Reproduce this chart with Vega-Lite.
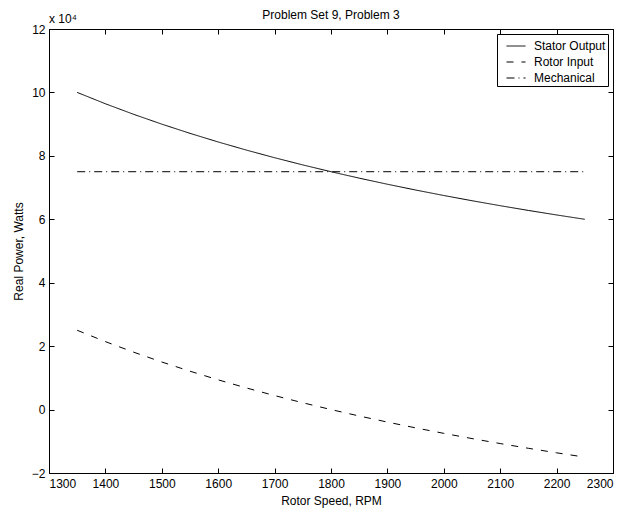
{
  "$schema": "https://vega.github.io/schema/vega-lite/v6.json",
  "width": 564,
  "height": 444,
  "padding": {"left": 12, "top": 9, "right": 17, "bottom": 5},
  "background": "white",
  "config": {
    "font": "Liberation Sans",
    "view": {"stroke": "black", "strokeWidth": 1},
    "axis": {"domainColor": "black", "tickColor": "black", "labelColor": "black", "titleColor": "black", "labelFontSize": 12, "titleFontSize": 12, "titleFontWeight": "normal", "grid": false, "tickSize": -5, "labelPadding": 9}
  },
  "title": {"text": "Problem Set 9, Problem 3", "fontSize": 12, "fontWeight": "normal", "color": "black", "offset": -9},
  "resolve": {"axis": {"x": "independent", "y": "independent"}},
  "layer": [
    {
      "data": {
        "values": [
          {"rpm": 1350, "power": 100000, "series": "Stator Output"},
          {"rpm": 1400, "power": 96428.6, "series": "Stator Output"},
          {"rpm": 1450, "power": 93103.4, "series": "Stator Output"},
          {"rpm": 1500, "power": 90000, "series": "Stator Output"},
          {"rpm": 1550, "power": 87096.8, "series": "Stator Output"},
          {"rpm": 1600, "power": 84375, "series": "Stator Output"},
          {"rpm": 1650, "power": 81818.2, "series": "Stator Output"},
          {"rpm": 1700, "power": 79411.8, "series": "Stator Output"},
          {"rpm": 1750, "power": 77142.9, "series": "Stator Output"},
          {"rpm": 1800, "power": 75000, "series": "Stator Output"},
          {"rpm": 1850, "power": 72973, "series": "Stator Output"},
          {"rpm": 1900, "power": 71052.6, "series": "Stator Output"},
          {"rpm": 1950, "power": 69230.8, "series": "Stator Output"},
          {"rpm": 2000, "power": 67500, "series": "Stator Output"},
          {"rpm": 2050, "power": 65853.7, "series": "Stator Output"},
          {"rpm": 2100, "power": 64285.7, "series": "Stator Output"},
          {"rpm": 2150, "power": 62790.7, "series": "Stator Output"},
          {"rpm": 2200, "power": 61363.6, "series": "Stator Output"},
          {"rpm": 2250, "power": 60000, "series": "Stator Output"},
          {"rpm": 1350, "power": 25000, "series": "Rotor Input"},
          {"rpm": 1400, "power": 21428.6, "series": "Rotor Input"},
          {"rpm": 1450, "power": 18103.4, "series": "Rotor Input"},
          {"rpm": 1500, "power": 15000, "series": "Rotor Input"},
          {"rpm": 1550, "power": 12096.8, "series": "Rotor Input"},
          {"rpm": 1600, "power": 9375, "series": "Rotor Input"},
          {"rpm": 1650, "power": 6818.2, "series": "Rotor Input"},
          {"rpm": 1700, "power": 4411.8, "series": "Rotor Input"},
          {"rpm": 1750, "power": 2142.9, "series": "Rotor Input"},
          {"rpm": 1800, "power": 0, "series": "Rotor Input"},
          {"rpm": 1850, "power": -2027, "series": "Rotor Input"},
          {"rpm": 1900, "power": -3947.4, "series": "Rotor Input"},
          {"rpm": 1950, "power": -5769.2, "series": "Rotor Input"},
          {"rpm": 2000, "power": -7500, "series": "Rotor Input"},
          {"rpm": 2050, "power": -9146.3, "series": "Rotor Input"},
          {"rpm": 2100, "power": -10714.3, "series": "Rotor Input"},
          {"rpm": 2150, "power": -12209.3, "series": "Rotor Input"},
          {"rpm": 2200, "power": -13636.4, "series": "Rotor Input"},
          {"rpm": 2250, "power": -15000, "series": "Rotor Input"},
          {"rpm": 1350, "power": 75000, "series": "Mechanical"},
          {"rpm": 2250, "power": 75000, "series": "Mechanical"}
        ]
      },
      "mark": {"type": "line", "color": "black", "strokeWidth": 1},
      "encoding": {
        "x": {"field": "rpm", "type": "quantitative", "title": "Rotor Speed, RPM",
          "scale": {"domain": [1300, 2300], "nice": false, "zero": false},
          "axis": {"values": [1300, 1400, 1500, 1600, 1700, 1800, 1900, 2000, 2100, 2200, 2300], "format": "d", "labelPadding": 10, "titlePadding": 6}},
        "y": {"field": "power", "type": "quantitative", "title": "Real Power, Watts",
          "scale": {"domain": [-20000, 120000], "nice": false, "zero": false},
          "axis": {"values": [-20000, 0, 20000, 40000, 60000, 80000, 100000, 120000], "labelExpr": "datum.value < 0 ? '\u2212' + (-datum.value / 10000) : '' + (datum.value / 10000)", "titlePadding": 6}},
        "strokeDash": {"field": "series", "type": "nominal",
          "scale": {"domain": ["Stator Output", "Rotor Input", "Mechanical"], "range": [[1, 0], [7, 8], [8, 4, 1, 4]]},
          "legend": {"title": null, "orient": "top-right", "offset": 5, "symbolType": "stroke", "symbolStrokeColor": "black", "symbolStrokeWidth": 1, "symbolSize": 361, "symbolOffset": 7, "labelFontSize": 12, "labelColor": "black", "strokeColor": "black", "fillColor": "white", "padding": 2, "rowPadding": -7, "labelOffset": 8}
        }
      }
    },
    {
      "data": {"values": [{"label": "x 10\u2074"}]},
      "mark": {"type": "text", "align": "left", "baseline": "alphabetic", "dy": -6, "fontSize": 12, "color": "black"},
      "encoding": {
        "x": {"datum": 1300, "axis": null},
        "y": {"datum": 120000, "axis": null},
        "text": {"field": "label"}
      }
    },
    {
      "data": {"values": [{"label": "box"}]},
      "mark": {"type": "rule", "opacity": 0},
      "encoding": {
        "x": {"datum": 1300, "axis": {"orient": "top", "labels": false, "title": null, "domain": false, "values": [1300, 1400, 1500, 1600, 1700, 1800, 1900, 2000, 2100, 2200, 2300]}},
        "y": {"datum": 120000, "axis": {"orient": "right", "labels": false, "title": null, "domain": false, "values": [-20000, 0, 20000, 40000, 60000, 80000, 100000, 120000]}}
      }
    }
  ]
}
